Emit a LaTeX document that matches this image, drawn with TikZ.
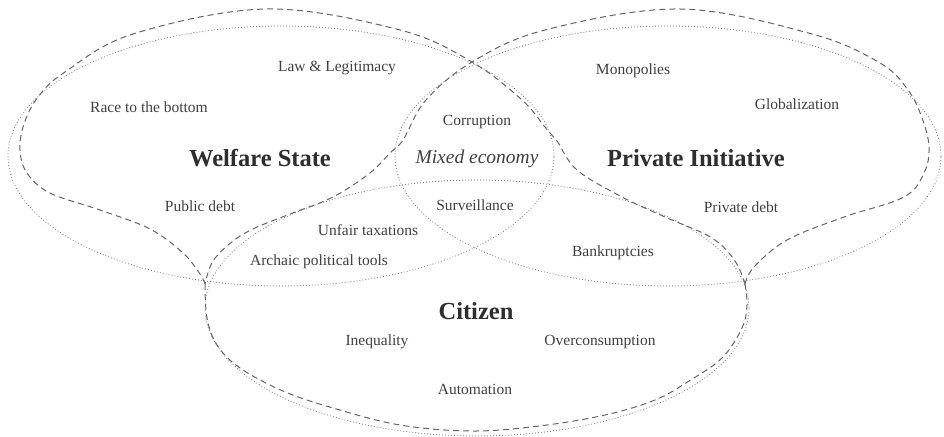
\documentclass[tikz,border=0pt]{standalone}
\usepackage{fontspec}
\setmainfont{Liberation Serif}
\begin{document}
\begin{tikzpicture}[x=1pt,y=-1pt,
  setline/.style={draw=black!55, line width=1.1pt, dash pattern=on 0pt off 3pt, line cap=round},
  lobe/.style={draw=black!60, line width=1pt, dash pattern=on 6pt off 4pt},
  item/.style={text=black!75, font=\fontsize{15.5}{18}\selectfont, inner sep=0pt},
  title/.style={text=black!82, font=\fontsize{24.5}{28}\selectfont\bfseries, inner sep=0pt}]
\useasboundingbox (0,0) rectangle (944,436);

% dotted set outlines
\draw[setline] (281,156) ellipse [x radius=273pt, y radius=130pt];
\draw[setline] (668,156) ellipse [x radius=273pt, y radius=130pt];
\draw[setline] (477,308) ellipse [x radius=272pt, y radius=128pt];

% dashed lobes
\coordinate (cuspL) at (205,284);
\coordinate (cuspR) at (745,284);
\coordinate (top) at (472,62);

\draw[lobe] plot[smooth, tension=0.6] coordinates {
  (205,284) (200,274) (183,253) (150,229) (100,210) (50,193) (27,173) (20,150)
  (24,124) (38,97) (65,72) (133,34) (267,9) (400,30)
  (472,62) (522,100) (545,127) (557,141) (577,170) (622,197) (665,217)
  (712,238) (735,261) (745,284)};

\draw[lobe] plot[smooth, tension=0.6] coordinates {
  (745,284) (754,267) (787,240) (844,217) (904,197) (924,173) (929,147)
  (922,118) (908,90) (880,63) (812,34) (680,9) (545,30)
  (472,62) (426,100) (403,140) (390,153) (370,173) (333,197) (290,214)
  (255,228) (233,241) (213,261) (205,284)};

\draw[lobe] plot[smooth, tension=0.6] coordinates {
  (205,284) (207,318) (217,345) (240,368) (283,391) (333,408) (400,425)
  (472,431) (539,426) (605,415) (655,400) (689,381) (722,358) (742,328)
  (747,305) (745,284)};

% titles
\node[title] (welfare) at (260,158) {Welfare State};
\node[title] (private) at (696,158) {Private Initiative};
\node[title] (citizen) at (476,311) {Citizen};
\node[item, font=\fontsize{19.5}{22}\selectfont\itshape] (mixed) at (477,159) {Mixed economy};

% items
\node[item] (law) at (337,68) {Law \& Legitimacy};
\node[item] (race) at (149,107) {Race to the bottom};
\node[item] (pubdebt) at (200,206) {Public debt};
\node[item] (corruption) at (477,122) {Corruption};
\node[item] (surveillance) at (475,205) {Surveillance};
\node[item] (monopolies) at (633,71) {Monopolies};
\node[item] (global) at (797,104) {Globalization};
\node[item] (privdebt) at (741,207) {Private debt};
\node[item] (unfair) at (368,230) {Unfair taxations};
\node[item] (archaic) at (319,262) {Archaic political tools};
\node[item] (inequality) at (377,342) {Inequality};
\node[item] (automation) at (475,389) {Automation};
\node[item] (overcons) at (600,342) {Overconsumption};
\node[item] (bankrupt) at (613,253) {Bankruptcies};
\end{tikzpicture}
\end{document}
